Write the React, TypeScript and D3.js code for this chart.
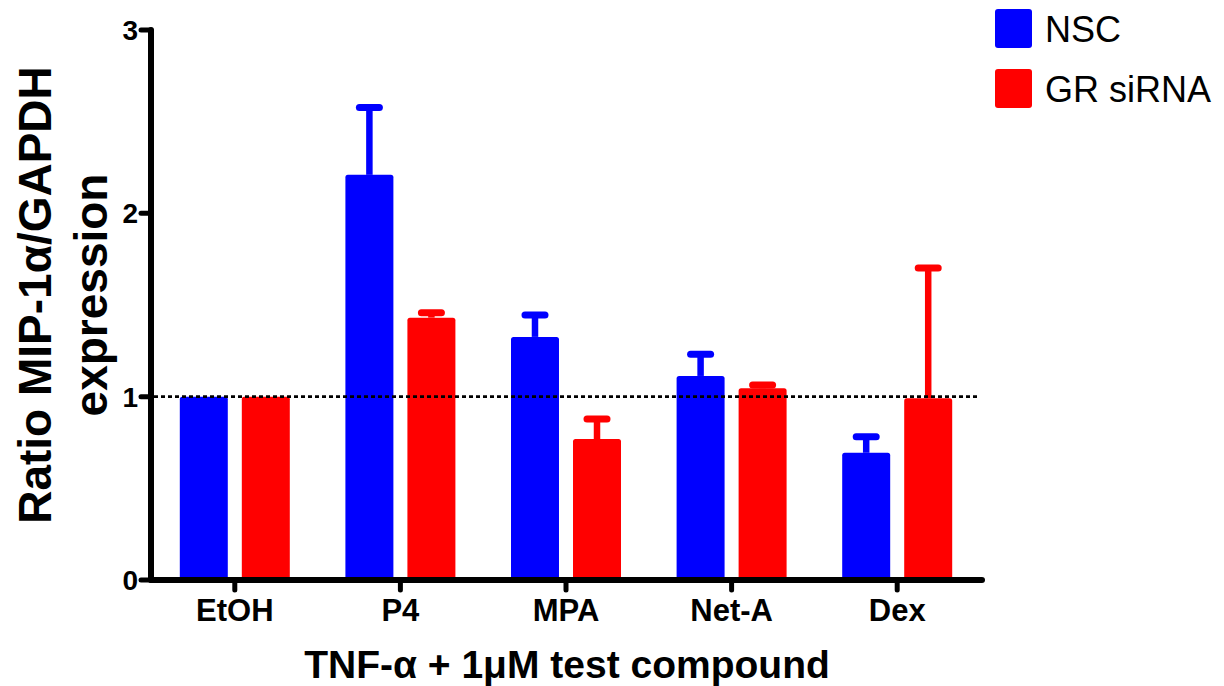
import React from "react";
import * as d3 from "d3";

const compounds = ["EtOH", "P4", "MPA", "Net-A", "Dex"];
const seriesNames = ["NSC", "GR siRNA"];
const seriesColors = ["#0000ff", "#ff0000"];
const nscMean = [1.0, 2.21, 1.326, 1.113, 0.694];
const nscErr = [0, 0.367, 0.12, 0.118, 0.088];
const grMean = [1.0, 1.431, 0.769, 1.046, 0.991];
const grErr = [0, 0.027, 0.109, 0.018, 0.711];
const yTicks = [0, 1, 2, 3];

const FONT = "'Liberation Sans', Arial, Helvetica, sans-serif";

const App = () => {
  const width = 1224;
  const height = 686;

  // scales
  const x = d3.scaleBand<string>().domain(compounds).range([152, 980]);
  const x1 = d3
    .scaleBand<string>()
    .domain(seriesNames)
    .range([0, 110])
    .paddingInner(0.226);
  const y = d3.scaleLinear().domain([0, 3]).range([580, 30]);

  const means = [nscMean, grMean];
  const errs = [nscErr, grErr];

  const groupLeft = (c: string) => (x(c) as number) + x.bandwidth() / 2 - 55;

  return (
    <svg
      width={width}
      height={height}
      style={{ position: "absolute", left: 0, top: 0, background: "#fff" }}
      fontFamily={FONT}
    >
      {/* bars */}
      {seriesNames.map((s, si) =>
        compounds.map((c, ci) => {
          const bx = groupLeft(c) + (x1(s) as number);
          const v = means[si][ci];
          return (
            <rect
              key={s + c}
              x={bx}
              y={y(v)}
              width={x1.bandwidth()}
              height={y(0) - y(v)}
              rx={2.5}
              fill={seriesColors[si]}
            />
          );
        })
      )}

      {/* error bars (upper only) */}
      {seriesNames.map((s, si) =>
        compounds.map((c, ci) => {
          const e = errs[si][ci];
          if (!e) return null;
          const cx = groupLeft(c) + (x1(s) as number) + x1.bandwidth() / 2;
          const top = y(means[si][ci] + e);
          return (
            <g key={"e" + s + c} stroke={seriesColors[si]} strokeLinecap="round">
              <line x1={cx} x2={cx} y1={y(means[si][ci])} y2={top} strokeWidth={6.5} strokeLinecap="butt" />
              <line x1={cx - 10} x2={cx + 10} y1={top} y2={top} strokeWidth={7} />
            </g>
          );
        })
      )}

      {/* reference line at 1 */}
      <line
        x1={154}
        x2={980}
        y1={y(1)}
        y2={y(1)}
        stroke="#000"
        strokeWidth={2.8}
        strokeDasharray="4,3"
      />

      {/* axes */}
      <g stroke="#000" strokeWidth={6} strokeLinecap="round">
        <line x1={151} x2={151} y1={y(3)} y2={y(0)} />
        <line x1={151} x2={982} y1={y(0)} y2={y(0)} />
        {yTicks.map((t) => (
          <line key={"yt" + t} x1={141} x2={151} y1={y(t)} y2={y(t)} strokeWidth={5} />
        ))}
        {compounds.map((c) => {
          const cx = (x(c) as number) + x.bandwidth() / 2;
          return <line key={"xt" + c} x1={cx} x2={cx} y1={y(0)} y2={y(0) + 10} strokeWidth={5} />;
        })}
      </g>

      {/* y tick labels */}
      {yTicks.map((t) => (
        <text
          key={"yl" + t}
          x={138}
          y={y(t)}
          dy="0.36em"
          textAnchor="end"
          fontSize={28}
          fontWeight="bold"
        >
          {t}
        </text>
      ))}

      {/* x tick labels */}
      {compounds.map((c) => (
        <text
          key={"xl" + c}
          x={(x(c) as number) + x.bandwidth() / 2}
          y={621}
          textAnchor="middle"
          fontSize={31}
          fontWeight="bold"
        >
          {c}
        </text>
      ))}

      {/* axis titles */}
      <text
        transform="translate(51,295) rotate(-90)"
        textAnchor="middle"
        fontSize={46}
        fontWeight="bold"
      >
        Ratio MIP-1α/GAPDH
      </text>
      <text
        transform="translate(107,295) rotate(-90)"
        textAnchor="middle"
        fontSize={46}
        fontWeight="bold"
      >
        expression
      </text>
      <text x={567} y={678} textAnchor="middle" fontSize={39} fontWeight="bold">
        TNF-α + 1μM test compound
      </text>

      {/* legend */}
      {seriesNames.map((s, i) => (
        <g key={"lg" + s}>
          <rect x={995} y={9 + i * 60} width={37} height={39} rx={3} fill={seriesColors[i]} />
          <text x={1045} y={42 + i * 60} fontSize={36}>
            {s}
          </text>
        </g>
      ))}
    </svg>
  );
};

export default App;
